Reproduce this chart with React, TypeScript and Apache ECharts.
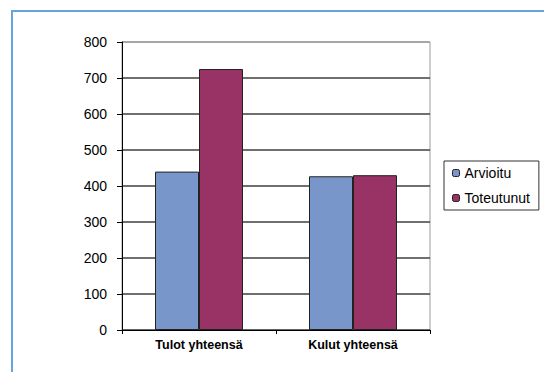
import React, { useEffect, useRef } from "react";
import * as echarts from "echarts";

const categories = ["Tulot yhteensä", "Kulut yhteensä"];
const seriesNames = ["Arvioitu", "Toteutunut"];
const arvioitu = [440, 427];
const toteutunut = [725, 430];
const yMin = 0;
const yMax = 800;
const yStep = 100;

export default function App() {
  const ref = useRef<HTMLDivElement>(null);
  useEffect(() => {
    if (!ref.current) return;
    const chart = echarts.init(ref.current, null, { renderer: "svg" });
    const font = "'Liberation Sans', Arial, sans-serif";
    const splitColors = ["#404040", "#404040", "#404040", "#404040", "#404040", "#404040", "#404040", "#404040", "#9a9a9a"];
    chart.setOption({
      animation: false,
      backgroundColor: "#ffffff",
      textStyle: { fontFamily: font },
      graphic: [
        {
          type: "rect",
          shape: { x: 12, y: 11, width: 620, height: 420 },
          style: { fill: "none", stroke: "#68A3DF", lineWidth: 2 },
          silent: true,
        },
      ],
      grid: {
        left: 122,
        top: 42,
        width: 308,
        height: 288,
        show: true,
        borderColor: "#9a9a9a",
        borderWidth: 1,
        backgroundColor: "transparent",
      },
      legend: {
        orient: "vertical",
        left: 444,
        top: 161,
        padding: [5, 9, 5, 8],
        itemWidth: 7,
        itemHeight: 7,
        itemGap: 11,
        itemStyle: { borderColor: "#222", borderWidth: 1 },
        borderColor: "#333",
        borderWidth: 1,
        textStyle: { fontFamily: font, fontSize: 14, color: "#000", padding: [0, 0, 0, 0] },
        data: seriesNames,
      },
      xAxis: {
        type: "category",
        data: categories,
        axisLine: { show: true, lineStyle: { color: "#000", width: 1 } },
        axisTick: { show: true, length: 4, inside: false, alignWithLabel: false, lineStyle: { color: "#000" } },
        axisLabel: { fontFamily: font, fontSize: 12.5, fontWeight: "bold", color: "#000", margin: 8 },
        splitLine: { show: false },
      },
      yAxis: {
        type: "value",
        min: yMin,
        max: yMax,
        interval: yStep,
        axisLine: { show: true, lineStyle: { color: "#000", width: 1 } },
        axisTick: { show: true, length: 5, lineStyle: { color: "#000" } },
        axisLabel: { fontFamily: font, fontSize: 14, color: "#000", margin: 15 },
        splitLine: { show: true, lineStyle: { color: splitColors, width: 1.5 } },
      },
      series: [
        {
          name: seriesNames[0],
          type: "bar",
          data: arvioitu,
          barWidth: 44,
          barGap: "0%",
          itemStyle: { color: "#7896C9", borderColor: "#222", borderWidth: 1 },
        },
        {
          name: seriesNames[1],
          type: "bar",
          data: toteutunut,
          barWidth: 44,
          barGap: "0%",
          itemStyle: { color: "#993366", borderColor: "#222", borderWidth: 1 },
        },
      ],
    });
    return () => chart.dispose();
  }, []);
  return (
    <div
      ref={ref}
      style={{ position: "fixed", left: 0, top: 0, width: 544, height: 372 }}
    />
  );
}
